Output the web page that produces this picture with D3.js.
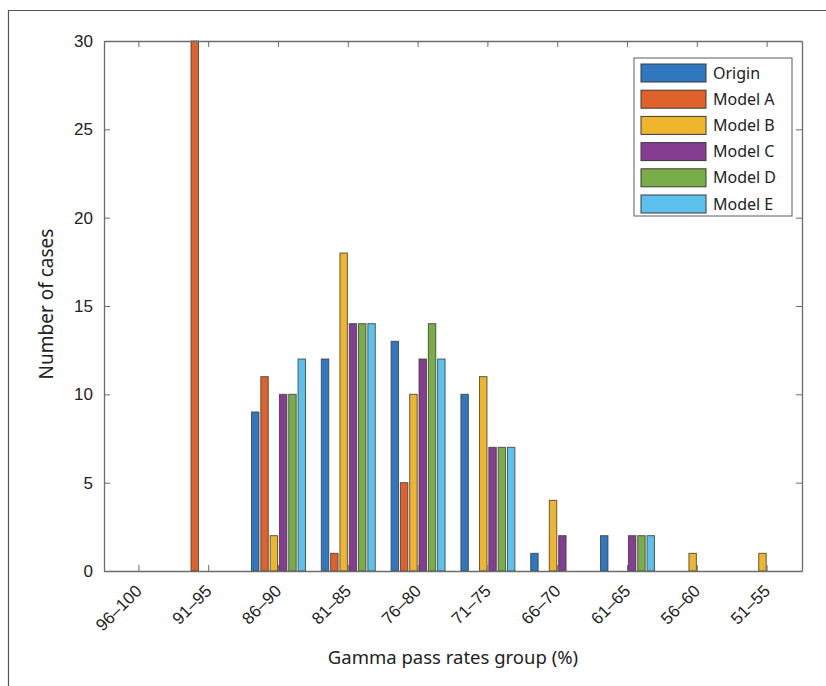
<!DOCTYPE html>
<html>
<head>
<meta charset="utf-8">
<script src="https://cdn.jsdelivr.net/npm/d3@7"></script>
<style>
  body { margin: 0; background: #fff; }
  svg { font-family: "Noto Sans", "Open Sans", sans-serif; }
</style>
</head>
<body>
<svg id="chart" width="826" height="686"></svg>
<script>
// categories (gamma pass rate groups)
var groups = ["96–100", "91–95", "86–90", "81–85", "76–80", "71–75", "66–70", "61–65", "56–60", "51–55"];
var seriesNames = ["Origin", "Model A", "Model B", "Model C", "Model D", "Model E"];
var seriesColors = ["#2f78bf", "#e0622b", "#efb52c", "#853d92", "#79ad47", "#5cc1ec"];

// number of cases per group, one array per series
var origin = [0, 0, 9, 12, 13, 10, 1, 2, 0, 0];
var modelA = [0, 30, 11, 1, 5, 0, 0, 0, 0, 0];
var modelB = [0, 0, 2, 18, 10, 11, 4, 0, 1, 1];
var modelC = [0, 0, 10, 14, 12, 7, 2, 2, 0, 0];
var modelD = [0, 0, 10, 14, 14, 7, 0, 2, 0, 0];
var modelE = [0, 0, 12, 14, 12, 7, 0, 2, 0, 0];
var yTicks = [0, 5, 10, 15, 20, 25, 30];

var allSeries = [origin, modelA, modelB, modelC, modelD, modelE];

var svg = d3.select("#chart");

// outer figure frame (left + top)
svg.append("path")
    .attr("d", "M8.5,686 L8.5,10.5 L826,10.5")
    .attr("fill", "none")
    .attr("stroke", "#555")
    .attr("stroke-width", 1.2);

var margin = { top: 41, right: 24, bottom: 115, left: 104 };
var width = 826 - margin.left - margin.right;
var height = 686 - margin.top - margin.bottom;

var g = svg.append("g")
    .attr("transform", "translate(" + margin.left + "," + margin.top + ")");

var x = d3.scaleBand().domain(groups).range([0, width]).paddingInner(0).paddingOuter(0);
var groupWidth = x.bandwidth() * 0.8;
var x1 = d3.scaleBand().domain(seriesNames).range([0, groupWidth]).paddingInner(0.2).paddingOuter(0.1);
var y = d3.scaleLinear().domain([0, 30]).range([height, 0]);

// bars
var rows = [];
allSeries.forEach(function (vals, si) {
    vals.forEach(function (v, gi) {
        rows.push({ group: groups[gi], series: seriesNames[si], color: seriesColors[si], value: v });
    });
});

g.append("g").selectAll("rect")
    .data(rows)
    .enter().append("rect")
    .attr("x", function (d) { return x(d.group) + (x.bandwidth() - groupWidth) / 2 + x1(d.series); })
    .attr("y", function (d) { return y(d.value); })
    .attr("width", x1.bandwidth())
    .attr("height", function (d) { return height - y(d.value); })
    .attr("fill", function (d) { return d.color; })
    .attr("stroke", "#3a3a3a")
    .attr("stroke-width", 1)
    .attr("stroke-opacity", 0.8);

// axes, MATLAB style box with inward ticks
var axisColor = "#6b6b6b";
function styleAxis(sel) {
    sel.select(".domain").attr("stroke", axisColor).attr("stroke-width", 1.3);
    sel.selectAll(".tick line").attr("stroke", axisColor);
    sel.selectAll("text").attr("fill", "#222");
}

var xBottom = g.append("g")
    .attr("transform", "translate(0," + height + ")")
    .call(d3.axisBottom(x).tickSize(-6).tickSizeOuter(0))
    .call(styleAxis);
xBottom.selectAll("text")
    .style("font-size", "17px")
    .attr("text-anchor", "end")
    .attr("x", 0).attr("y", 0)
    .attr("dx", 0).attr("dy", 0)
    .attr("transform", "translate(4,21) rotate(-45)");

g.append("g")
    .call(d3.axisTop(x).tickSize(-6).tickSizeOuter(0).tickFormat(""))
    .call(styleAxis);

g.append("g")
    .call(d3.axisLeft(y).tickValues(yTicks).tickSize(-6).tickSizeOuter(0).tickPadding(11))
    .call(styleAxis)
    .selectAll("text").style("font-size", "17px");

g.append("g")
    .attr("transform", "translate(" + width + ",0)")
    .call(d3.axisRight(y).tickValues(yTicks).tickSize(-6).tickSizeOuter(0).tickFormat(""))
    .call(styleAxis);

// axis titles
svg.append("text")
    .attr("x", margin.left + width / 2)
    .attr("y", 664)
    .attr("text-anchor", "middle")
    .style("font-size", "18.5px")
    .attr("fill", "#222")
    .text("Gamma pass rates group (%)");

svg.append("text")
    .attr("transform", "translate(53," + (margin.top + height / 2 - 2) + ") rotate(-90)")
    .attr("text-anchor", "middle")
    .style("font-size", "19px")
    .attr("fill", "#222")
    .text("Number of cases");

// legend
var legend = svg.append("g").attr("transform", "translate(634,58)");
legend.append("rect")
    .attr("width", 158).attr("height", 158)
    .attr("fill", "#fff")
    .attr("stroke", "#777").attr("stroke-width", 1.2);

var item = legend.selectAll("g.item")
    .data(seriesNames)
    .enter().append("g")
    .attr("class", "item")
    .attr("transform", function (d, i) { return "translate(7," + (6 + i * 26.2) + ")"; });

item.append("rect")
    .attr("width", 65).attr("height", 18)
    .attr("fill", function (d, i) { return seriesColors[i]; })
    .attr("stroke", "#3a3a3a").attr("stroke-width", 1);

item.append("text")
    .attr("x", 72).attr("y", 9)
    .attr("dy", "0.35em")
    .style("font-size", "16px")
    .attr("fill", "#222")
    .text(function (d) { return d; });
</script>
</body>
</html>
